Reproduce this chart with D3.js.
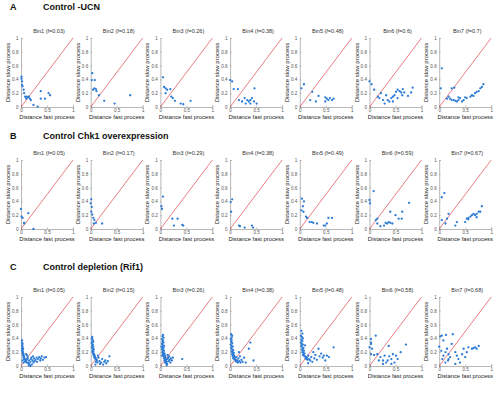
<!DOCTYPE html>
<html><head><meta charset="utf-8">
<script src="https://cdn.jsdelivr.net/npm/d3@7"></script>
<style>body{margin:0;background:#fff}svg{display:block;font-family:Arial,"Liberation Sans",sans-serif}</style>
</head><body><svg id="c" width="500" height="393"></svg>
<script>
const sections = ["Control -UCN", "Control Chk1 overexpression", "Control depletion (Rif1)"];
const letters = ["A", "B", "C"];
const titlesA = ["Bin1 (f=0.03)", "Bin2 (f=0.18)", "Bin3 (f=0.26)", "Bin4 (f=0.38)", "Bin5 (f=0.48)", "Bin6 (f=0.6)", "Bin7 (f=0.7)"];
const titlesB = ["Bin1 (f=0.05)", "Bin2 (f=0.17)", "Bin3 (f=0.29)", "Bin4 (f=0.38)", "Bin5 (f=0.49)", "Bin6 (f=0.59)", "Bin7 (f=0.67)"];
const titlesC = ["Bin1 (f=0.05)", "Bin2 (f=0.15)", "Bin3 (f=0.26)", "Bin4 (f=0.38)", "Bin5 (f=0.48)", "Bin6 (f=0.58)", "Bin7 (f=0.68)"];
const xTicks = [0, 0.5, 1];
const yTicks = [0, 0.2, 0.4, 0.6, 0.8, 1];
const xLabel = "Distance fast process";
const yLabel = "Distance slow process";

const A1 = [[0.01,0.44],[0.01,0.41],[0.02,0.37],[0.02,0.32],[0.03,0.3],[0.05,0.25],[0.06,0.2],[0.08,0.15],[0.11,0.15],[0.13,0.14],[0.15,0.15],[0.17,0.12],[0.19,0.1],[0.1,0.12],[0.24,0.03],[0.32,0.005],[0.38,0.23],[0.38,0.12],[0.46,0.12],[0.53,0.2],[0.56,0.17]];
const A2 = [[0.03,0.49],[0.02,0.39],[0.08,0.39],[0.045,0.25],[0.07,0.27],[0.1,0.26],[0.11,0.23],[0.16,0.17],[0.26,0.09],[0.46,0.05],[0.76,0.17]];
const A3 = [[0.05,0.43],[0.07,0.29],[0.1,0.27],[0.13,0.25],[0.19,0.26],[0.1,0.2],[0.21,0.15],[0.24,0.13],[0.28,0.09],[0.39,0.05],[0.44,0.04],[0.58,0.09]];
const A4 = [[0.0,0.39],[0.04,0.37],[0.07,0.26],[0.15,0.26],[0.17,0.1],[0.23,0.08],[0.28,0.13],[0.3,0.05],[0.33,0.1],[0.36,0.08],[0.39,0.1],[0.39,0.05],[0.42,0.13],[0.47,0.27],[0.46,0.08],[0.51,0.05]];
const A5 = [[0.03,0.27],[0.08,0.33],[0.2,0.1],[0.24,0.22],[0.31,0.08],[0.36,0.16],[0.49,0.14],[0.49,0.08],[0.52,0.12],[0.55,0.1],[0.58,0.13],[0.62,0.1],[0.65,0.12]];
const A6 = [[0.0,0.37],[0.04,0.33],[0.09,0.25],[0.16,0.15],[0.19,0.13],[0.22,0.2],[0.26,0.1],[0.29,0.05],[0.32,0.17],[0.35,0.1],[0.38,0.08],[0.42,0.13],[0.45,0.15],[0.45,0.08],[0.48,0.17],[0.51,0.22],[0.54,0.25],[0.54,0.13],[0.58,0.23],[0.61,0.21],[0.63,0.17],[0.64,0.26],[0.67,0.21],[0.74,0.16],[0.8,0.21],[0.83,0.28]];
const A7 = [[0.03,0.27],[0.05,0.56],[0.15,0.12],[0.18,0.15],[0.21,0.12],[0.24,0.27],[0.24,0.1],[0.29,0.28],[0.28,0.1],[0.31,0.09],[0.34,0.08],[0.37,0.1],[0.37,0.14],[0.4,0.13],[0.44,0.08],[0.47,0.1],[0.5,0.14],[0.53,0.13],[0.6,0.15],[0.63,0.17],[0.66,0.16],[0.69,0.2],[0.72,0.22],[0.76,0.23],[0.79,0.27],[0.82,0.29],[0.85,0.33]];

const B1 = [[0.0,0.29],[0.01,0.18],[0.03,0.16],[0.06,0.09],[0.06,0.08],[0.14,0.23],[0.24,0.0]];
const B2 = [[0.01,0.43],[0.0,0.37],[0.02,0.32],[0.01,0.25],[0.03,0.21],[0.05,0.16],[0.07,0.13],[0.1,0.09],[0.06,0.08],[0.22,0.08]];
const B3 = [[0.05,0.47],[0.02,0.33],[0.03,0.29],[0.23,0.15],[0.33,0.15],[0.26,0.05],[0.44,0.05],[0.42,0.06]];
const B4 = [[0.04,0.43],[0.01,0.39],[0.02,0.25],[0.17,0.05],[0.19,0.04],[0.28,0.02],[0.42,0.05],[0.44,0.02]];
const B5 = [[0.04,0.44],[0.08,0.4],[0.06,0.33],[0.03,0.27],[0.07,0.25],[0.12,0.18],[0.14,0.16],[0.19,0.1],[0.23,0.1],[0.26,0.09],[0.33,0.08],[0.46,0.05],[0.49,0.05],[0.52,0.08],[0.55,0.16],[0.62,0.16]];
const B6 = [[0.08,0.55],[0.0,0.42],[0.01,0.37],[0.12,0.13],[0.15,0.15],[0.15,0.08],[0.21,0.04],[0.28,0.05],[0.31,0.09],[0.34,0.08],[0.37,0.1],[0.4,0.09],[0.4,0.25],[0.44,0.08],[0.5,0.2],[0.56,0.15],[0.62,0.15],[0.63,0.25],[0.76,0.38]];
const B7 = [[0.05,0.46],[0.1,0.52],[0.05,0.13],[0.15,0.15],[0.18,0.22],[0.12,0.08],[0.34,0.1],[0.31,0.05],[0.5,0.1],[0.53,0.15],[0.56,0.16],[0.56,0.14],[0.6,0.18],[0.63,0.2],[0.66,0.22],[0.69,0.2],[0.72,0.22],[0.72,0.17],[0.76,0.25],[0.79,0.25],[0.82,0.33]];

const C1 = [[0.02,0.37],[0.02,0.34],[0.03,0.32],[0.02,0.3],[0.03,0.28],[0.02,0.26],[0.04,0.25],[0.03,0.23],[0.02,0.22],[0.04,0.2],[0.03,0.18],[0.05,0.17],[0.04,0.15],[0.06,0.14],[0.05,0.12],[0.07,0.11],[0.06,0.1],[0.08,0.09],[0.09,0.08],[0.1,0.07],[0.08,0.06],[0.11,0.05],[0.12,0.1],[0.13,0.12],[0.15,0.08],[0.14,0.04],[0.16,0.03],[0.18,0.06],[0.19,0.1],[0.2,0.12],[0.21,0.02],[0.22,0.08],[0.24,0.05],[0.25,0.11],[0.26,0.07],[0.28,0.09],[0.3,0.12],[0.31,0.06],[0.33,0.1],[0.35,0.13],[0.37,0.08],[0.38,0.11],[0.4,0.14],[0.42,0.09],[0.45,0.12],[0.48,0.13],[0.12,0.15],[0.1,0.17],[0.05,0.05],[0.03,0.08],[0.15,0.01],[0.18,0.0],[0.23,0.14]];
const C2 = [[0.03,0.42],[0.02,0.4],[0.04,0.38],[0.03,0.36],[0.05,0.35],[0.02,0.33],[0.04,0.31],[0.03,0.3],[0.05,0.28],[0.02,0.27],[0.04,0.25],[0.06,0.24],[0.03,0.22],[0.05,0.21],[0.04,0.2],[0.06,0.18],[0.05,0.17],[0.07,0.16],[0.06,0.15],[0.08,0.14],[0.07,0.13],[0.09,0.12],[0.08,0.11],[0.1,0.1],[0.11,0.09],[0.12,0.08],[0.1,0.06],[0.13,0.05],[0.15,0.12],[0.17,0.07],[0.18,0.03],[0.2,0.05],[0.22,0.1],[0.24,0.02],[0.26,0.06],[0.28,0.08],[0.3,0.04],[0.33,0.07],[0.36,0.14],[0.14,0.15],[0.09,0.02]];
const C3 = [[0.05,0.45],[0.04,0.43],[0.06,0.41],[0.03,0.39],[0.05,0.37],[0.04,0.35],[0.06,0.34],[0.03,0.32],[0.05,0.3],[0.07,0.29],[0.04,0.27],[0.06,0.26],[0.03,0.24],[0.05,0.23],[0.07,0.22],[0.04,0.2],[0.06,0.19],[0.08,0.18],[0.05,0.17],[0.07,0.16],[0.09,0.15],[0.06,0.14],[0.08,0.13],[0.1,0.12],[0.07,0.11],[0.09,0.1],[0.11,0.09],[0.08,0.08],[0.1,0.07],[0.12,0.06],[0.09,0.05],[0.11,0.04],[0.13,0.03],[0.12,0.01],[0.14,0.1],[0.15,0.12],[0.16,0.07],[0.17,0.14],[0.18,0.09],[0.2,0.11],[0.19,0.05],[0.22,0.08],[0.24,0.12],[0.14,0.16],[0.42,0.1],[0.02,0.28],[0.03,0.15]];
const C4 = [[0.02,0.46],[0.04,0.44],[0.03,0.41],[0.01,0.39],[0.03,0.37],[0.02,0.35],[0.04,0.33],[0.01,0.31],[0.03,0.29],[0.05,0.28],[0.02,0.26],[0.04,0.24],[0.06,0.23],[0.03,0.21],[0.05,0.2],[0.07,0.19],[0.04,0.17],[0.06,0.16],[0.08,0.15],[0.05,0.14],[0.07,0.13],[0.09,0.12],[0.06,0.11],[0.08,0.1],[0.1,0.09],[0.12,0.08],[0.11,0.07],[0.13,0.06],[0.15,0.05],[0.14,0.08],[0.16,0.11],[0.18,0.07],[0.2,0.05],[0.22,0.09],[0.19,0.14],[0.24,0.06],[0.27,0.12],[0.3,0.05],[0.36,0.25],[0.39,0.34],[0.45,0.08],[0.17,0.2],[0.12,0.13]];
const C5 = [[0.03,0.51],[0.05,0.47],[0.02,0.44],[0.04,0.42],[0.06,0.4],[0.03,0.38],[0.05,0.36],[0.02,0.34],[0.04,0.32],[0.06,0.31],[0.03,0.29],[0.05,0.27],[0.07,0.26],[0.04,0.24],[0.06,0.23],[0.08,0.22],[0.05,0.2],[0.07,0.19],[0.09,0.18],[0.06,0.16],[0.08,0.15],[0.1,0.14],[0.12,0.13],[0.11,0.11],[0.13,0.1],[0.15,0.09],[0.14,0.12],[0.16,0.15],[0.18,0.1],[0.2,0.08],[0.22,0.13],[0.24,0.06],[0.26,0.2],[0.28,0.11],[0.3,0.16],[0.33,0.09],[0.36,0.25],[0.38,0.14],[0.41,0.18],[0.44,0.12],[0.46,0.15],[0.49,0.08],[0.52,0.15],[0.56,0.13],[0.65,0.27],[0.1,0.3],[0.16,0.04]];
const C6 = [[0.03,0.39],[0.03,0.34],[0.03,0.32],[0.0,0.27],[0.05,0.25],[0.03,0.17],[0.12,0.44],[0.09,0.16],[0.15,0.17],[0.21,0.13],[0.26,0.08],[0.29,0.15],[0.32,0.05],[0.37,0.29],[0.38,0.14],[0.42,0.1],[0.45,0.17],[0.48,0.05],[0.51,0.15],[0.54,0.1],[0.6,0.2],[0.7,0.31],[0.18,0.08],[0.35,0.08],[0.26,0.03],[0.42,0.03]];
const C7 = [[0.02,0.43],[0.05,0.44],[0.13,0.45],[0.08,0.37],[0.0,0.28],[0.04,0.22],[0.12,0.2],[0.15,0.25],[0.18,0.17],[0.08,0.15],[0.21,0.13],[0.17,0.08],[0.24,0.32],[0.26,0.46],[0.12,0.05],[0.31,0.2],[0.34,0.15],[0.37,0.1],[0.4,0.05],[0.47,0.25],[0.5,0.13],[0.56,0.27],[0.63,0.25],[0.66,0.26],[0.69,0.27],[0.72,0.25],[0.76,0.29],[0.53,0.2],[0.18,0.1],[0.06,0.1],[0.31,0.03],[0.44,0.17]];

const rowsData = [[A1,A2,A3,A4,A5,A6,A7],[B1,B2,B3,B4,B5,B6,B7],[C1,C2,C3,C4,C5,C6,C7]];
const rowTitles = [titlesA, titlesB, titlesC];

const svg = d3.select("#c");
const rowTop = [38, 160, 297];
const headerY = [10, 139, 270];
const plotW = 52, plotH = 69, pitch = 69.7, left0 = 21;
const x = d3.scaleLinear().domain([0,1]).range([0, plotW]);
const y = d3.scaleLinear().domain([0,1]).range([plotH, 0]);

rowsData.forEach((row, r) => {
  svg.append("text").attr("x", 10).attr("y", headerY[r]).attr("font-size", 9).attr("font-weight", "bold").attr("fill", "#111").text(letters[r]);
  svg.append("text").attr("x", 43).attr("y", headerY[r]).attr("font-size", 9).attr("font-weight", "bold").attr("fill", "#111").text(sections[r]);
  row.forEach((pts, i) => {
    const g = svg.append("g").attr("transform", `translate(${left0 + pitch*i},${rowTop[r]})`);
    const xa = g.append("g").attr("transform", `translate(0,${plotH})`)
      .call(d3.axisBottom(x).tickValues(xTicks).tickFormat(d3.format("")).tickSize(-1.5).tickPadding(2));
    const ya = g.append("g").call(d3.axisLeft(y).tickValues(yTicks).tickFormat(d3.format("")).tickSize(-1.5).tickPadding(2.5));
    [xa, ya].forEach(a => {
      a.select(".domain").attr("stroke", "#888").attr("stroke-width", 0.6);
      a.selectAll(".tick line").attr("stroke", "#888").attr("stroke-width", 0.5);
      a.selectAll(".tick text").attr("font-size", 4.6).attr("fill", "#555").attr("font-family", "Arial, 'Liberation Sans', sans-serif");
    });
    g.append("line").attr("x1", x(0)).attr("y1", y(0)).attr("x2", x(1)).attr("y2", y(1))
      .attr("stroke", "#e0454d").attr("stroke-width", 0.7);
    g.selectAll("circle").data(pts).join("circle")
      .attr("cx", d => x(d[0])).attr("cy", d => y(d[1])).attr("r", 1.15).attr("fill", "#2b7bd6");
    g.append("text").attr("x", plotW/2 + 2).attr("y", -5).attr("text-anchor", "middle")
      .attr("font-size", 5.5).attr("fill", "#333").text(rowTitles[r][i]);
    g.append("text").attr("x", plotW/2).attr("y", plotH + 12).attr("text-anchor", "middle")
      .attr("font-size", 5.8).attr("fill", "#222").text(xLabel);
    g.append("text").attr("transform", `translate(-11,${plotH/2}) rotate(-90)`).attr("text-anchor", "middle")
      .attr("font-size", 6).attr("fill", "#222").text(yLabel);
  });
});
</script></body></html>
